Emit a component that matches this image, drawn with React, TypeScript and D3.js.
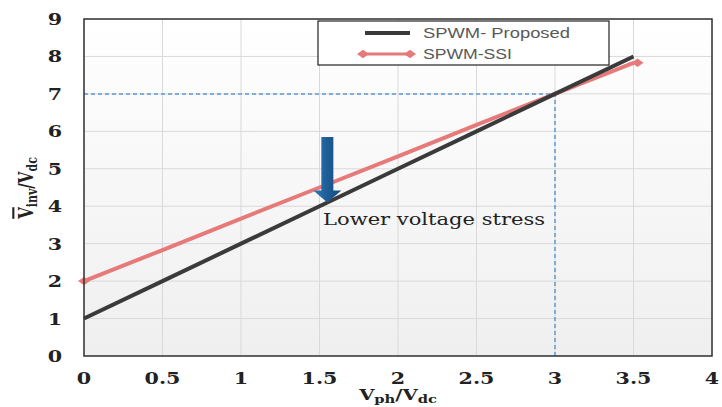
import React from 'react';
import * as d3 from 'd3';

// values
const xVals = [0, 0.5, 1, 1.5, 2, 2.5, 3, 3.5];
const proposed = [1, 2, 3, 4, 5, 6, 7, 8];
const ssi = [2, 2.83, 3.67, 4.5, 5.33, 6.17, 7, 7.83];
const xTicks = [0, 0.5, 1, 1.5, 2, 2.5, 3, 3.5, 4];
const yTicks = [0, 1, 2, 3, 4, 5, 6, 7, 8, 9];
const seriesNames = ['SPWM- Proposed', 'SPWM-SSI'];
const refPoint = { x: 3, y: 7 };
const arrowAt = { x: 1.55, from: 5.85, to: 4.1 };

const W = 722;
const H = 407;
const m = { left: 84, right: 10, top: 19, bottom: 51 };

export default function App() {
  const x = d3.scaleLinear().domain([0, 4]).range([m.left, W - m.right]);
  const y = d3.scaleLinear().domain([0, 9]).range([H - m.bottom, m.top]);

  const line = d3
    .line<number>()
    .x((_, i) => x(xVals[i]))
    .y((d) => y(d));

  const serif = "'DejaVu Serif', 'Liberation Serif', serif";
  const sans = "'Liberation Sans', 'Open Sans', sans-serif";
  const red = '#e67a7a';
  const dark = '#3a3a3a';

  const diamond = (cx: number, cy: number, r: number) =>
    `M${cx - r},${cy} L${cx},${cy - r * 0.7} L${cx + r},${cy} L${cx},${cy + r * 0.7} Z`;

  const ax = x(arrowAt.x);
  const aTop = y(arrowAt.from);
  const aTip = y(arrowAt.to);

  return (
    <svg
      width={W}
      height={H}
      style={{ position: 'absolute', left: 0, top: 0, background: '#fff' }}
    >
      <defs>
        <linearGradient id="bg" x1="0" y1="0" x2="0" y2="1">
          <stop offset="0" stopColor="#ffffff" />
          <stop offset="1" stopColor="#efefef" />
        </linearGradient>
        <linearGradient id="arrowFill" x1="0" y1="0" x2="1" y2="0">
          <stop offset="0" stopColor="#3479b5" />
          <stop offset="0.5" stopColor="#1d5d97" />
          <stop offset="1" stopColor="#174b7c" />
        </linearGradient>
      </defs>

      <rect
        x={m.left}
        y={m.top}
        width={W - m.left - m.right}
        height={H - m.top - m.bottom}
        fill="url(#bg)"
      />

      {/* grid */}
      {xTicks.map((t) => (
        <line key={'gx' + t} x1={x(t)} x2={x(t)} y1={y(0)} y2={y(9)} stroke="#d9d9d9" strokeWidth={1} />
      ))}
      {yTicks.map((t) => (
        <line key={'gy' + t} x1={x(0)} x2={x(4)} y1={y(t)} y2={y(t)} stroke="#d9d9d9" strokeWidth={1} />
      ))}

      {/* reference dashed lines */}
      <line
        x1={x(0)}
        x2={x(refPoint.x)}
        y1={y(refPoint.y)}
        y2={y(refPoint.y)}
        stroke="#5b9bd5"
        strokeWidth={1.5}
        strokeDasharray="4,3"
      />
      <line
        x1={x(refPoint.x)}
        x2={x(refPoint.x)}
        y1={y(0)}
        y2={y(refPoint.y)}
        stroke="#5b9bd5"
        strokeWidth={1.5}
        strokeDasharray="4,3"
      />

      {/* series */}
      <path d={line(ssi) || ''} fill="none" stroke={red} strokeWidth={4} />
      <path d={diamond(x(xVals[0]), y(ssi[0]), 6)} fill={red} />
      <path
        d={diamond(x(xVals[xVals.length - 1]) + 4, y(ssi[ssi.length - 1]), 6)}
        fill={red}
      />
      <path d={line(proposed) || ''} fill="none" stroke={dark} strokeWidth={4} />

      {/* plot border */}
      <rect
        x={m.left}
        y={m.top}
        width={W - m.left - m.right}
        height={H - m.top - m.bottom}
        fill="none"
        stroke="#333"
        strokeWidth={1.5}
      />

      {/* arrow */}
      <path
        d={`M${ax - 6},${aTop} L${ax + 6},${aTop} L${ax + 6},${aTip - 12} L${ax + 14},${aTip - 12} L${ax},${aTip} L${ax - 14},${aTip - 12} L${ax - 6},${aTip - 12} Z`}
        fill="url(#arrowFill)"
      />
      <text
        x={323}
        y={y(3.5)}
        fontFamily={serif}
        fontSize={17}
        fill="#222"
        textLength={222}
        lengthAdjust="spacingAndGlyphs"
      >
        Lower voltage stress
      </text>

      {/* ticks */}
      {xTicks.map((t) => (
        <text
          key={'tx' + t}
          transform={`translate(${x(t)},384) scale(1.25,1)`}
          textAnchor="middle"
          fontFamily={serif}
          fontWeight="bold"
          fontSize={16.5}
          fill="#222"
        >
          {t}
        </text>
      ))}
      {yTicks.map((t) => (
        <text
          key={'ty' + t}
          transform={`translate(62,${y(t) + 6}) scale(1.25,1)`}
          textAnchor="end"
          fontFamily={serif}
          fontWeight="bold"
          fontSize={16.5}
          fill="#222"
        >
          {t}
        </text>
      ))}

      {/* axis titles */}
      <text
        transform={`translate(${x(2)},400) scale(1.4,1)`}
        textAnchor="middle"
        fontFamily={serif}
        fontWeight="bold"
        fontSize={14}
        fill="#222"
      >
        V
        <tspan fontSize={10.5} dy={3}>ph</tspan>
        <tspan dy={-3}>/V</tspan>
        <tspan fontSize={10.5} dy={3}>dc</tspan>
      </text>
      <text
        transform={`translate(33,188) rotate(-90) scale(1,1.4)`}
        textAnchor="middle"
        fontFamily={serif}
        fontWeight="bold"
        fontSize={15}
        fill="#222"
      >
        <tspan textDecoration="overline">V</tspan>
        <tspan fontSize={11} dy={3}>inv</tspan>
        <tspan dy={-3}>/V</tspan>
        <tspan fontSize={11} dy={3}>dc</tspan>
      </text>

      {/* legend */}
      <rect x={318} y={21} width={291} height={44} fill="#fff" stroke="#222" strokeWidth={1.2} />
      <line x1={365} x2={410} y1={33} y2={33} stroke={dark} strokeWidth={4} />
      <line x1={363} x2={410} y1={54} y2={54} stroke={red} strokeWidth={3} />
      <path d={diamond(363, 54, 6)} fill={red} />
      <path d={diamond(410, 54, 6)} fill={red} />
      <text
        x={423}
        y={38}
        fontFamily={sans}
        fontSize={14}
        fill="#595959"
        textLength={147}
        lengthAdjust="spacingAndGlyphs"
      >
        {seriesNames[0]}
      </text>
      <text
        x={423}
        y={59}
        fontFamily={sans}
        fontSize={14}
        fill="#595959"
        textLength={89}
        lengthAdjust="spacingAndGlyphs"
      >
        {seriesNames[1]}
      </text>
    </svg>
  );
}
